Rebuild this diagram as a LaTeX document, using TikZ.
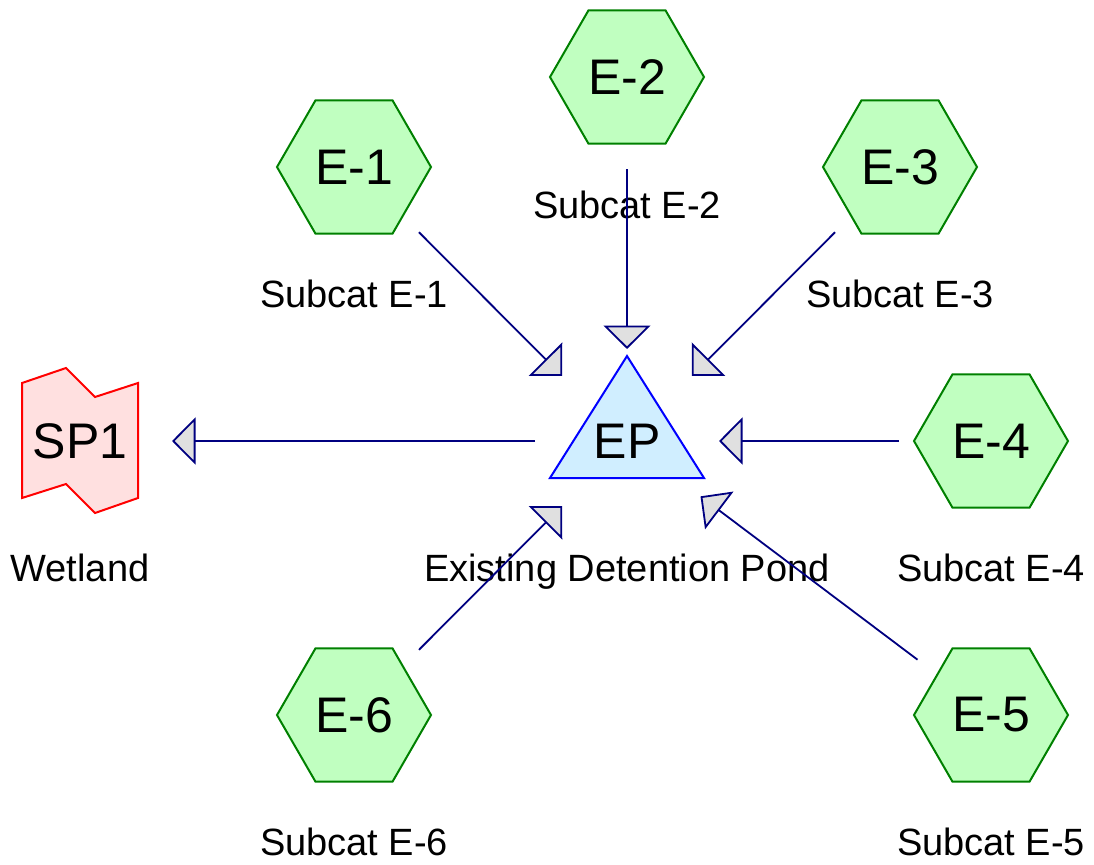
\documentclass[tikz,border=0pt]{standalone}
\usepackage{fontspec}
\setmainfont{Liberation Sans}
\usetikzlibrary{arrows.meta,shapes.geometric}

\definecolor{hexfill}{HTML}{C0FFC0}
\definecolor{hexdraw}{HTML}{008000}
\definecolor{pondfill}{HTML}{D0EEFF}
\definecolor{ponddraw}{HTML}{0000FF}
\definecolor{wetfill}{HTML}{FFE0E0}
\definecolor{wetdraw}{HTML}{FF0000}
\definecolor{flowcol}{HTML}{000080}
\definecolor{tipgray}{HTML}{E0E0E0}

\tikzset{
  subcat/.style={regular polygon, regular polygon sides=6, minimum size=77pt,
    inner sep=0pt, fill=hexfill, draw=hexdraw, line width=1pt,
    font=\fontsize{25pt}{30pt}\selectfont},
  bigtext/.style={inner sep=0pt, font=\fontsize{25pt}{30pt}\selectfont},
  lab/.style={inner sep=0pt, anchor=base, font=\fontsize{19pt}{23pt}\selectfont},
  flow/.style={draw=flowcol, line width=0.9pt,
    -{Triangle[length=11.75pt, width=23.5pt, fill=tipgray]},
    shorten <=46pt, shorten >=46pt},
}

\begin{document}
\begin{tikzpicture}[x=0.5pt, y=-0.5pt]
  \useasboundingbox (0,0) rectangle (1094,864);

  % pond (triangle) and wetland (folded sheet)
  \path[fill=pondfill, draw=ponddraw, line width=1pt, line join=miter]
    (550,478) -- (704,478) -- (627,356) -- cycle;
  \node[bigtext] (ep) at (627,441) {EP};
  \path[fill=wetfill, draw=wetdraw, line width=1pt]
    (22,383) -- (66,368) -- (95,397) -- (138,383) -- (138,498)
    -- (95,513) -- (66,484) -- (22,498) -- cycle;
  \node[bigtext] (sp1) at (80,441) {SP1};

  % subcatchments
  \node[subcat] (e1) at (354,167) {E-1};
  \node[subcat] (e2) at (627,77)  {E-2};
  \node[subcat] (e3) at (900,167) {E-3};
  \node[subcat] (e4) at (991,441) {E-4};
  \node[subcat] (e5) at (991,715) {E-5};
  \node[subcat] (e6) at (354,715) {E-6};

  % captions
  \node[lab] (le1) at (354,307) {Subcat E-1};
  \node[lab] (le2) at (627,218) {Subcat E-2};
  \node[lab] (le3) at (900,307) {Subcat E-3};
  \node[lab] (le4) at (991,581) {Subcat E-4};
  \node[lab] (le5) at (991,855) {Subcat E-5};
  \node[lab] (le6) at (354,855) {Subcat E-6};
  \node[lab] (lsp) at (80,581)  {Wetland};
  \node[lab] (lep) at (627,581) {Existing Detention Pond};

  % flow links
  \draw[flow] (e1.center) -- (ep.center);
  \draw[flow] (e2.center) -- (ep.center);
  \draw[flow] (e3.center) -- (ep.center);
  \draw[flow] (e4.center) -- (ep.center);
  \draw[flow] (e5.center) -- (ep.center);
  \draw[flow] (e6.center) -- (ep.center);
  \draw[flow] (ep.center) -- (sp1.center);
\end{tikzpicture}
\end{document}
